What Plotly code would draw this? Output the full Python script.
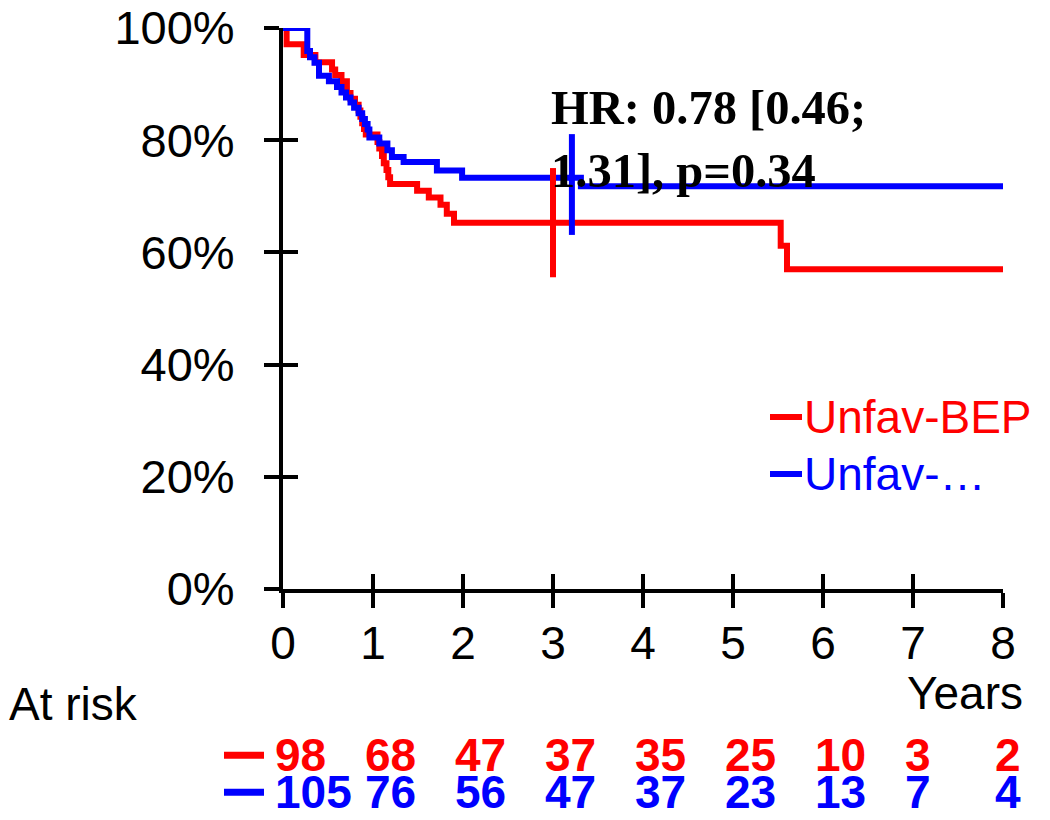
import plotly.graph_objects as go

# ---------------- data ----------------
x_ticks = [0, 1, 2, 3, 4, 5, 6, 7, 8]
x_tick_labels = ["0", "1", "2", "3", "4", "5", "6", "7", "8"]
y_ticks = [0, 20, 40, 60, 80, 100]
y_tick_labels = ["0%", "20%", "40%", "60%", "80%", "100%"]

series_names = ["Unfav-BEP", "Unfav-…"]
series_colors = ["#ff0000", "#0000ff"]

red_time = [0, 0.04, 0.23, 0.36, 0.545, 0.58, 0.65, 0.71, 0.75, 0.80, 0.84, 0.86,
            0.88, 0.90, 0.92, 1.05, 1.07, 1.10, 1.12, 1.15, 1.17, 1.19, 1.49, 1.62,
            1.75, 1.82, 1.90, 5.53, 5.60, 8.0]
red_surv = [100, 97.1, 95.2, 93.9, 92.6, 91.6, 90.5, 88.4, 87.4, 86.3, 85.3, 84.2,
            83.0, 82.0, 81.0, 79.7, 78.5, 77.2, 75.9, 74.7, 73.4, 72.2, 71.0, 69.8,
            68.5, 66.9, 65.3, 61.2, 57.0, 57.0]

blue_time = [0, 0.27, 0.30, 0.35, 0.40, 0.51, 0.60, 0.65, 0.70, 0.75, 0.79, 0.84,
             0.88, 0.91, 0.94, 0.96, 1.07, 1.16, 1.21, 1.34, 1.71, 1.99, 3.31, 8.0]
blue_surv = [100, 95.9, 94.8, 93.8, 91.5, 90.5, 89.5, 88.5, 87.6, 86.7, 85.8, 84.8,
             83.8, 82.9, 81.9, 80.5, 79.4, 78.2, 77.0, 76.1, 74.6, 73.3, 71.8, 71.8]

red_censor_time = [3.0]
red_censor_surv = [65.3]
blue_censor_time = [3.21]
blue_censor_surv = [72.1]

risk_times = [0, 1, 2, 3, 4, 5, 6, 7, 8]
red_at_risk = [98, 68, 47, 37, 35, 25, 10, 3, 2]
blue_at_risk = [105, 76, 56, 47, 37, 23, 13, 7, 4]

hr_text = "<b>HR: 0.78 [0.46;<br>1.31], p=0.34</b>"
x_title = "Years"
risk_title = "At risk"

# ---------------- figure ----------------
SANS = "Liberation Sans, Arial, sans-serif"
SERIF = "Liberation Serif, Times New Roman, serif"
FS = 46
LW = 6

fig = go.Figure()

fig.add_trace(go.Scatter(x=red_time, y=red_surv, mode="lines", line_shape="hv",
                         line=dict(color=series_colors[0], width=LW),
                         name=series_names[0], cliponaxis=False, showlegend=False))
fig.add_trace(go.Scatter(x=blue_time, y=blue_surv, mode="lines", line_shape="hv",
                         line=dict(color=series_colors[1], width=LW),
                         name=series_names[1], cliponaxis=False, showlegend=False))
fig.add_trace(go.Scatter(x=red_censor_time, y=red_censor_surv, mode="markers",
                         marker=dict(symbol="line-ns", size=78,
                                     line=dict(color=series_colors[0], width=LW)),
                         showlegend=False, cliponaxis=False))
fig.add_trace(go.Scatter(x=blue_censor_time, y=blue_censor_surv, mode="markers",
                         marker=dict(symbol="line-ns", size=72,
                                     line=dict(color=series_colors[1], width=LW)),
                         showlegend=False, cliponaxis=False))

axis_common = dict(showgrid=False, zeroline=False, showline=True, linecolor="black",
                   linewidth=4, tickcolor="black", tickwidth=4, ticklen=15,
                   automargin=False)

L, T, PW, PH = 275, 20, 720, 561
fig.update_layout(
    width=1050, height=820,
    margin=dict(l=L, r=1050 - L - PW, t=T, b=820 - T - PH, autoexpand=False),
    paper_bgcolor="white", plot_bgcolor="white",
    font=dict(family=SANS, size=FS, color="black"),
    xaxis=dict(range=[0, 8], tickvals=x_ticks, ticktext=x_tick_labels, ticks="outside",
               tickfont=dict(family=SANS, size=FS), ticklabelstandoff=-4,
               ticklabeloverflow="allow", **axis_common),
    yaxis=dict(range=[0, 100], tickvals=y_ticks, ticktext=y_tick_labels, ticks="outside",
               tickfont=dict(family=SANS, size=47), ticklabelstandoff=20,
               ticklabeloverflow="allow", **axis_common),
    xaxis2=dict(range=[0, 8], tickvals=x_ticks, ticks="inside", showticklabels=False,
                overlaying="x", side="bottom", anchor="y", **axis_common),
    yaxis2=dict(range=[0, 100], tickvals=y_ticks, ticks="inside", showticklabels=False,
                overlaying="y", side="left", anchor="x", **axis_common),
    showlegend=False,
)

fig.add_trace(go.Scatter(x=[None], y=[None], xaxis="x2", yaxis="y2", showlegend=False,
                         hoverinfo="skip"))


def px_x(px):
    return (px - L) / PW


def px_y(py):
    return (T + PH - py) / PH


# legend (drawn as line samples + labels)
legend_rows = [409, 466]
for name, col, py in zip(series_names, series_colors, legend_rows):
    fig.add_shape(type="line", xref="paper", yref="paper", x0=px_x(762), x1=px_x(794),
                  y0=px_y(py), y1=px_y(py), line=dict(color=col, width=6))
    fig.add_annotation(x=px_x(794), y=px_y(py), xref="paper", yref="paper", text=name,
                       showarrow=False, xanchor="left", yanchor="middle",
                       font=dict(family=SANS, size=FS, color=col))

# HR annotation
fig.add_annotation(x=3.0, y=90.9, xref="x", yref="y", text=hr_text, showarrow=False,
                   xanchor="left", yanchor="top", align="left", xshift=-4,
                   font=dict(family=SERIF, size=48.5, color="black"))

# x title
fig.add_annotation(x=px_x(1017), y=px_y(685), xref="paper", yref="paper", text=x_title,
                   showarrow=False, xanchor="right", yanchor="middle",
                   font=dict(family=SANS, size=FS, color="black"))
# at risk title
fig.add_annotation(x=px_x(-1), y=px_y(696), xref="paper", yref="paper", text=risk_title,
                   showarrow=False, xanchor="left", yanchor="middle",
                   font=dict(family=SANS, size=FS, color="black"))

# at-risk numbers
rows = [(red_at_risk, series_colors[0], 747.3), (blue_at_risk, series_colors[1], 784.3)]
for counts, col, py in rows:
    yy = px_y(py)
    for t, n in zip(risk_times, counts):
        fig.add_annotation(x=t, y=yy, xref="x", yref="paper", text=f"<b>{n}</b>",
                           showarrow=False, xanchor="left", yanchor="middle", xshift=-10,
                           font=dict(family=SANS, size=FS, color=col))
    fig.add_shape(type="line", xref="paper", yref="paper", x0=px_x(216), x1=px_x(256),
                  y0=yy, y1=yy, line=dict(color=col, width=7))

fig.write_html("out.html")
